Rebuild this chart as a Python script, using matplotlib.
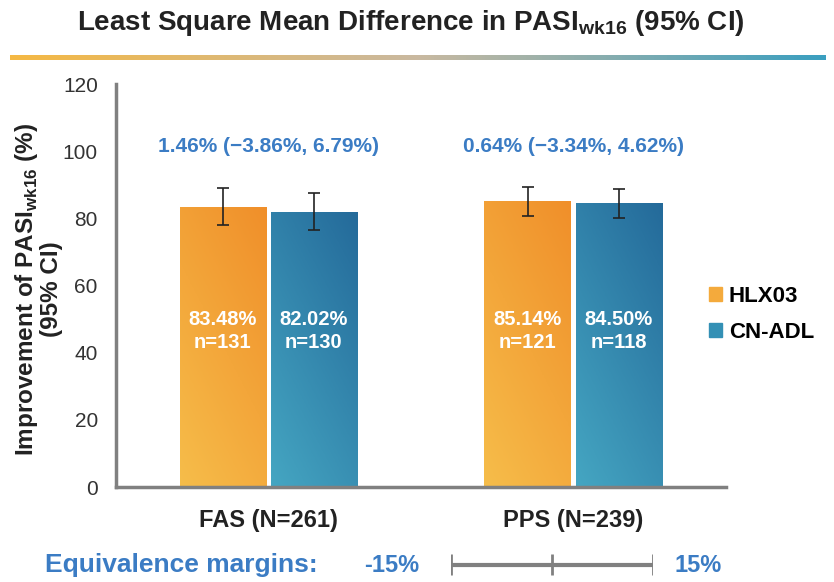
import matplotlib
matplotlib.use('agg')
import matplotlib.pyplot as plt
import numpy as np
from matplotlib.colors import LinearSegmentedColormap

plt.rcParams['font.family'] = ['Liberation Sans', 'DejaVu Sans']
plt.rcParams['mathtext.fontset'] = 'custom'
plt.rcParams['mathtext.rm'] = 'Liberation Sans'
plt.rcParams['mathtext.bf'] = 'Liberation Sans:bold'

groups = ['FAS (N=261)', 'PPS (N=239)']
series = ['HLX03', 'CN-ADL']
hlx_mean = [83.48, 85.14]
cn_mean = [82.02, 84.50]
hlx_lo = [77.9, 80.8]
hlx_hi = [88.9, 89.3]
cn_lo = [76.5, 80.2]
cn_hi = [87.6, 88.8]
hlx_n = [131, 121]
cn_n = [130, 118]
diff_text = ['1.46% (\u22123.86%, 6.79%)', '0.64% (\u22123.34%, 4.62%)']
yticks = [0, 20, 40, 60, 80, 100, 120]

orange_cmap = LinearSegmentedColormap.from_list('o', ['#F6BD4A', '#F08F2A'])
blue_cmap = LinearSegmentedColormap.from_list('b', ['#45A6C2', '#246A9A'])
grey = '#808080'
blue_txt = '#3B7CC4'

fig = plt.figure(figsize=(8.34, 5.82), dpi=100)

# title + gradient rule
fig.text(0.493, 0.960, 'Least Square Mean Difference in PASI$_{\\mathbf{wk16}}$ (95% CI)',
         ha='center', va='center', fontsize=20, fontweight='bold', color='#222222')
rule = fig.add_axes([0.012, 0.897, 0.978, 0.008])
rule.imshow(np.linspace(0, 1, 256)[None, :], aspect='auto',
            cmap=LinearSegmentedColormap.from_list('r', ['#F5B843', '#C9B9A0', '#3A9FC0']))
rule.axis('off')

ax = fig.add_axes([0.139, 0.1632, 0.731, 0.6924])
x = np.arange(len(groups))
w = 0.283
gap = 0.008

def grad_bars(xs, heights, cmap):
    bars = ax.bar(xs, heights, w, color='none', edgecolor='none')
    g = np.add.outer(np.linspace(0, 1, 100), np.linspace(0, 0.6, 100)) / 1.6
    for b in bars:
        x0, y0 = b.get_x(), b.get_y()
        im = ax.imshow(g, cmap=cmap, origin='lower', aspect='auto',
                       extent=[x0, x0 + b.get_width(), y0, y0 + b.get_height()], zorder=1)
        im.set_clip_path(b)
    return bars

xh = x - w / 2 - gap
xc = x + w / 2 + gap
grad_bars(xh, hlx_mean, orange_cmap)
grad_bars(xc, cn_mean, blue_cmap)

hlx_err = [np.array(hlx_mean) - np.array(hlx_lo), np.array(hlx_hi) - np.array(hlx_mean)]
cn_err = [np.array(cn_mean) - np.array(cn_lo), np.array(cn_hi) - np.array(cn_mean)]
ax.errorbar(xh, hlx_mean, yerr=hlx_err, fmt='none', ecolor='#222222', elinewidth=1.2, capsize=4, capthick=1.2, zorder=3)
ax.errorbar(xc, cn_mean, yerr=cn_err, fmt='none', ecolor='#222222', elinewidth=1.2, capsize=4, capthick=1.2, zorder=3)

for i in range(len(groups)):
    ax.text(xh[i], 46.5, '%.2f%%\nn=%d' % (hlx_mean[i], hlx_n[i]), ha='center', va='center',
            color='white', fontsize=14.5, fontweight='bold', linespacing=1.3)
    ax.text(xc[i], 46.5, '%.2f%%\nn=%d' % (cn_mean[i], cn_n[i]), ha='center', va='center',
            color='white', fontsize=14.5, fontweight='bold', linespacing=1.3)
    ax.text(x[i], 101.5, diff_text[i], ha='center', va='center', color=blue_txt,
            fontsize=15, fontweight='bold')

ax.set_xlim(-0.5, 1.5)
ax.set_ylim(0, 120)
ax.set_yticks(yticks)
ax.set_xticks(x)
ax.set_xticklabels(groups, fontsize=17, fontweight='bold', color='#222222')
ax.tick_params(axis='y', length=0, pad=13, labelsize=15, labelcolor='#333333')
ax.tick_params(axis='x', length=0, pad=16)
for s in ['top', 'right']:
    ax.spines[s].set_visible(False)
for s in ['left', 'bottom']:
    ax.spines[s].set_color(grey)
    ax.spines[s].set_linewidth(2.5)
ax.set_ylabel('Improvement of PASI$_{\\mathbf{wk16}}$ (%)\n(95% CI)', fontsize=17.5,
              fontweight='bold', color='#222222', linespacing=1.0)
ax.yaxis.set_label_coords(-0.087, 0.49)

# legend
handles = [plt.Rectangle((0, 0), 1, 1, color='#F4AA3C'), plt.Rectangle((0, 0), 1, 1, color='#3390B5')]
fig.legend(handles, series, loc='center left', bbox_to_anchor=(0.826, 0.46), frameon=False,
           prop={'weight': 'bold', 'size': 16}, handlelength=0.6, handleheight=0.6,
           handletextpad=0.3, labelspacing=0.7)

# equivalence margins
fig.text(0.054, 0.029, 'Equivalence margins:', ha='left', va='center', color=blue_txt,
         fontsize=19, fontweight='bold')
fig.text(0.437, 0.029, '-15%', ha='left', va='center', color=blue_txt, fontsize=17, fontweight='bold')
fig.text(0.809, 0.029, '15%', ha='left', va='center', color=blue_txt, fontsize=17, fontweight='bold')
margins = [-15, 0, 15]
em = fig.add_axes([0.541, 0.005, 0.242, 0.05])
em.plot([margins[0], margins[-1]], [0, 0], color=grey, lw=3)
em.vlines(margins, -0.7, 0.7, color=grey, lw=2)
em.set_xlim(-15, 15)
em.set_ylim(-1, 1)
em.axis('off')

fig.savefig('out.png', dpi=100)
